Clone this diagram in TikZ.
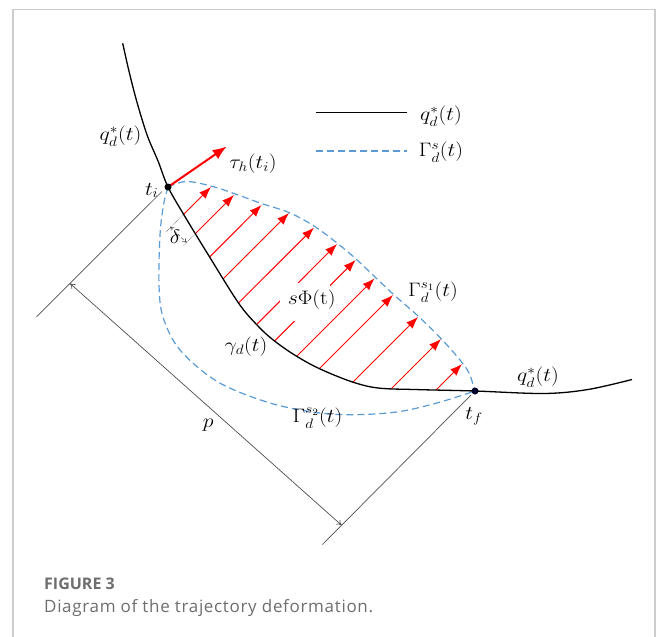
\RequirePackage{fix-cm}
\documentclass[tikz,border=0pt]{standalone}
\usepackage{fontspec}
\usepackage{amsmath}
\newfontfamily\capfont{Open Sans}
\usetikzlibrary{arrows.meta,calc}
\definecolor{dashblue}{RGB}{91,155,213}
\definecolor{framegray}{RGB}{205,205,205}
\definecolor{capgray}{RGB}{110,110,110}
\definecolor{dimgray}{RGB}{80,80,80}
\newcommand{\mlab}[1]{\scalebox{1.12}[1]{$#1$}}
\tikzset{
  curveblack/.style={line width=1.3pt, black},
  curveblue/.style={line width=1.2pt, dashblue, dash pattern=on 7pt off 4pt},
  redarrow/.style={line width=1pt, red, -{Latex[length=12pt,width=9pt]}},
  tauarrow/.style={line width=2pt, red, -{Latex[length=14pt,width=11pt]}},
  dimline/.style={line width=0.7pt, dimgray},
  dimarrow/.style={line width=0.7pt, dimgray, {To[length=5pt,width=6pt]}-{To[length=5pt,width=6pt]}},
  deltaarrow/.style={line width=0.6pt, dimgray, densely dashed, {To[length=4pt,width=5pt]}-{To[length=4pt,width=5pt]}},
  extdot/.style={line width=0.6pt, dimgray, densely dotted},
  lbl/.style={inner sep=0pt, font=\fontsize{19.5}{22}\selectfont},
  dot/.style={circle, fill=black, inner sep=0pt, minimum size=7pt},
}
\begin{document}
\begin{tikzpicture}[x=1pt,y=-1pt]
\useasboundingbox (0,0) rectangle (656,637);
\fill[white] (0,0) rectangle (656,637);
% frame
\draw[framegray, line width=1.5pt] (13,640) -- (13,9.5) -- (655,9.5) -- (655,640);

% named points
\coordinate (ti) at (168,187);
\coordinate (tf) at (475,391);

% dimension p
\coordinate (e1a) at (36.7,316.7);
\coordinate (e1b) at (162,191.5);
\coordinate (e2a) at (322.5,544.5);
\coordinate (e2b) at (471,395);
\coordinate (pa) at (70,283.4);
\coordinate (pb) at (341.7,525.3);
\draw[dimline] (e1a) -- (e1b);
\draw[dimline] (e2a) -- (e2b);
\draw[dimarrow] (pa) -- (pb);

% red arrows
\foreach \bx/\by/\tx/\ty in {
  183.5/214.5/211/187,
  195.4/233.6/234/195,
  209.6/257/261.5/205,
  223.3/278.7/289/213,
  238.5/303/314/227.6,
  256.6/324.5/337/244,
  274.7/340.9/355.6/260,
  296.8/356.2/374.5/278.5,
  319.4/368.6/393/295,
  352.6/382.4/418/317,
  391.5/388.5/441/339,
  436/390/462/364}
  {\draw[redarrow] (\bx,\by) -- (\tx,\ty);}

% white gap behind s Phi label
\fill[white] (280,283) rectangle (330,321);

% delta dimension
\coordinate (d1) at (170,226.7);
\coordinate (d2) at (186.7,242.7);
\draw[extdot] (183.5,214.5) -- (166,232);
\draw[extdot] (195.4,233.6) -- (183,246);
\draw[deltaarrow] (d1) -- (d2);

% blue dashed curves
\draw[curveblue] plot[smooth, tension=0.55] coordinates {
  (168,187) (186,181.5) (211,186) (234,193.5) (261.5,203.5) (289,212.5) (314,226)
  (337,243) (356,259) (375,277) (393,294) (418,316) (441,338.5) (460,360) (469,373) (475,391)};
\draw[curveblue] plot[smooth, tension=0.55] coordinates {
  (168,187) (163.5,205) (160,235) (159,284.5) (163,317) (180,350) (218,382)
  (270,403) (320,413) (360,414.6) (400,411.5) (439,402.4) (475,391)};

% black curve
\draw[curveblack] plot[smooth, tension=0.55] coordinates {
  (122.7,43.3) (128.3,68.3) (135,95) (141.7,118.3) (148.3,138.3) (158.3,161.7) (168,187)
  (184,215) (209,256) (238.5,303)
  (257,325) (272,339) (293,354) (318,368) (351,381.5) (378,388) (418,389.6) (475,391)
  (544,393.5) (588,389.5) (632,379.5)};

% tangent arrow
\draw[tauarrow] (ti) -- (226.7,146.5);

% dots
\node[dot] (tidot) at (ti) {};
\node[dot, fill=black!85!blue] (tfdot) at (tf) {};

% legend
\coordinate (l1a) at (316,112.7);
\coordinate (l1b) at (406.7,112.7);
\coordinate (l2a) at (316,151);
\coordinate (l2b) at (407,151);
\draw[curveblack] (l1a) -- (l1b);
\draw[curveblue] (l2a) -- (l2b);
\node[lbl] (legq) at (441,116) {\mlab{q_d^{*}(t)}};
\node[lbl] (legG) at (441,152) {\mlab{\Gamma_d^{s}(t)}};

% labels
\node[lbl] (qleft) at (120.5,136.5) {\mlab{q_d^{*}(t)}};
\node[lbl] (tau) at (253,164) {\mlab{\tau_h(t_i)}};
\node[lbl] (tilbl) at (151.7,190.5) {\mlab{t_i}};
\node[lbl] (delta) at (175,237) {\mlab{\delta}};
\node[lbl] (sphi) at (311.7,300) {\mlab{s\Phi(\mathrm{t})}};
\node[lbl] (G1) at (433,292.5) {\mlab{\Gamma_d^{s_1}(t)}};
\node[lbl] (gam) at (246,346.7) {\mlab{\gamma_d(t)}};
\node[lbl] (G2) at (317.5,418) {\mlab{\Gamma_d^{s_2}(t)}};
\node[lbl] (plbl) at (208.3,425) {\mlab{p}};
\node[lbl] (tflbl) at (474,416) {\mlab{t_f}};
\node[lbl] (qright) at (538,377) {\mlab{q_d^{*}(t)}};

% caption
\node[anchor=west, inner sep=0pt, text=capgray, font=\capfont\bfseries\fontsize{16}{19}\selectfont] (fig) at (44,584) {FIGURE 3};
\node[anchor=west, inner sep=0pt, text=capgray, font={\capfont\addfontfeature{LetterSpace=4}\fontsize{17}{20}\selectfont}] (cap) at (44,608) {Diagram of the trajectory deformation.};
\end{tikzpicture}
\end{document}
